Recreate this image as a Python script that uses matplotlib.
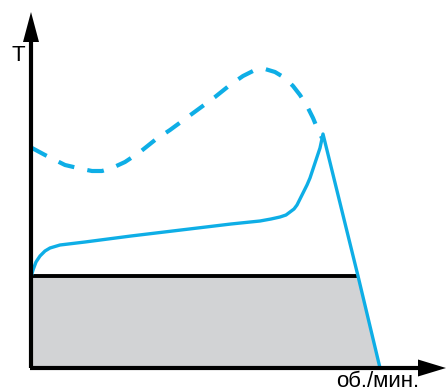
import matplotlib
matplotlib.use("Agg")
import matplotlib.pyplot as plt

# data in chart units (origin at axes intersection)
# solid torque curve
solid_x = [0, 2, 5, 9, 14, 19, 29, 54, 100, 150, 200, 229, 240, 249, 255, 259, 263, 266, 269, 272, 276, 279, 282, 285, 289, 292, 327, 349]
solid_y = [91, 98, 106, 112, 117, 120, 123, 126, 132, 138, 144, 147, 149, 151, 153, 156, 159, 163, 169, 175, 183, 190, 199, 208, 220, 234, 92, 0]
# dashed curve
dash_x = [1, 14, 34, 51, 61, 71, 81, 94, 109, 124, 139, 154, 169, 184, 199, 212, 224, 234, 244, 254, 262, 269, 276, 282, 287, 291]
dash_y = [220, 213, 203, 199, 197, 197, 200, 206, 216, 228, 238, 249, 260, 271, 283, 292, 298, 299, 296, 290, 282, 273, 262, 250, 238, 230]
# load area
load_x = [0, 326, 349]
load_y = [92, 92, 0]

blue = "#0eaee6"
gray = "#d2d3d5"

fig = plt.figure(figsize=(4.48, 3.92), dpi=100)
ax = fig.add_axes([0, 0, 1, 1])
ax.set_xlim(-31, 417)
ax.set_ylim(-24, 368)
ax.axis("off")

# gray area
ax.fill_between(load_x, load_y, 0, color=gray, lw=0, zorder=1)
ax.plot(load_x[:2], load_y[:2], color="black", lw=2.8, solid_capstyle="butt", zorder=2)

# curves
ax.plot(solid_x, solid_y, color=blue, lw=2.4, zorder=3, solid_joinstyle="round")
ax.plot(dash_x, dash_y, color=blue, lw=3, dashes=(4, 3.2), zorder=3)

# axes with arrows
ax.plot([0, 0], [0, 326], color="black", lw=3, zorder=4, solid_capstyle="butt")
ax.plot([-1.5, 389], [0, 0], color="black", lw=3, zorder=4, solid_capstyle="butt")
ax.fill([-8, 8, 0], [326, 326, 356], color="black", zorder=5, lw=0)
ax.fill([387, 387, 415], [-8.5, 8.5, 0], color="black", zorder=5, lw=0)

ax.text(-13, 313, "T", fontsize=16, family="Liberation Sans", ha="center", va="center")
ax.text(347, -19, "об./мин.", fontsize=16, family="Liberation Sans", ha="center", va="baseline")

fig.savefig("out.png", dpi=100)
